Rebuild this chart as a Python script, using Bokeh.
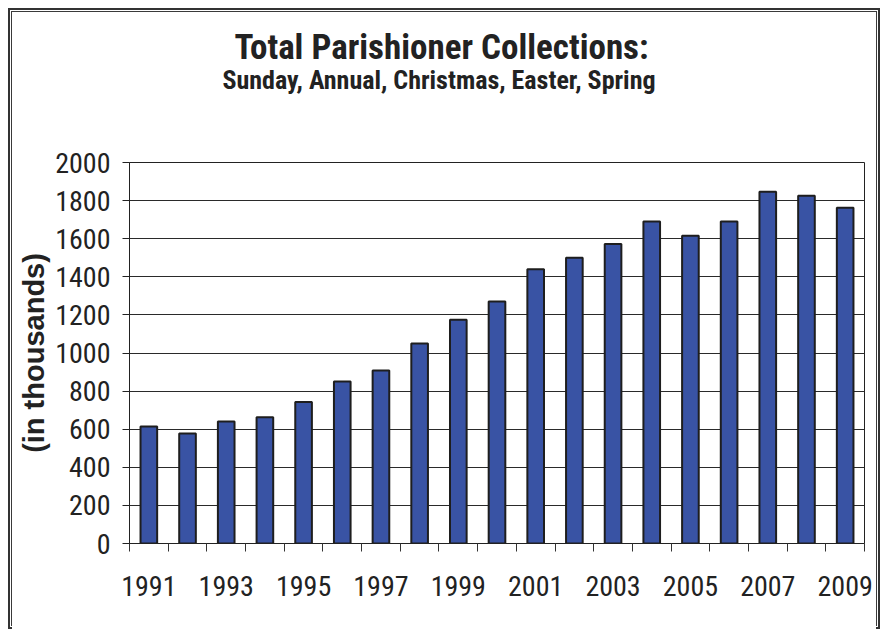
from bokeh.plotting import figure
from bokeh.models import FixedTicker, Range1d, Title, ColumnDataSource, BasicTickFormatter
from bokeh.embed import file_html
from bokeh.resources import INLINE

years = [1991, 1992, 1993, 1994, 1995, 1996, 1997, 1998, 1999, 2000,
         2001, 2002, 2003, 2004, 2005, 2006, 2007, 2008, 2009]
collections = [614, 577, 640, 663, 743, 850, 908, 1050, 1175, 1270,
               1440, 1500, 1572, 1690, 1615, 1690, 1847, 1826, 1762]
y_ticks = [0, 200, 400, 600, 800, 1000, 1200, 1400, 1600, 1800, 2000]
x_tick_labels = [1991, 1993, 1995, 1997, 1999, 2001, 2003, 2005, 2007, 2009]

title_text = "Total Parishioner Collections:"
subtitle_text = "Sunday, Annual, Christmas, Easter, Spring"
y_label = "(in thousands)"

FONT = "Roboto Condensed"

src = ColumnDataSource(dict(x=years, top=collections))

p = figure(width=884, height=633, output_backend="svg", toolbar_location=None,
           x_range=Range1d(years[0] - 0.5, years[-1] + 0.5),
           y_range=Range1d(0, 2000),
           min_border_left=129, min_border_right=20, min_border_bottom=90,
           min_border_top=162)
# double frame around the whole chart (open at the bottom, as in the cropped original)
p.styles = {"box-shadow": ("inset 2px 2px 0 6px #ffffff, inset 2px 2px 0 8px #333333, "
                           "inset 2px 2px 0 9px #ffffff, inset 2px 2px 0 10px #3a3a3a"),
            "background-color": "#ffffff",
            "clip-path": ("polygon(0px 0px, 884px 0px, 884px 633px, 876px 633px, "
                          "876px 618px, 12px 618px, 12px 633px, 0px 633px)")}

p.vbar(x="x", top="top", width=0.43, bottom=0, source=src,
       fill_color="#3953A4", line_color="#1e1e1e", line_width=2)

# main title (outermost)
p.title.text = title_text
p.title.align = "left"
p.title.offset = 105
p.title.standoff = -5
p.title.text_font = FONT
p.title.text_font_style = "bold"
p.title.text_font_size = "35px"
p.title.text_color = "#222222"

# spacer nearest the frame, then subtitle
spacer = Title(text=" ", text_font_size="10px", standoff=58)
p.add_layout(spacer, "above")
sub = Title(text=subtitle_text, align="left", offset=93, text_font=FONT,
            text_font_style="bold", text_font_size="26px",
            text_color="#222222", standoff=-6)
p.add_layout(sub, "above")

# x axis
xa = p.xaxis[0]
xa.ticker = FixedTicker(ticks=x_tick_labels,
                        minor_ticks=[y - 0.5 for y in years] + [years[-1] + 0.5])
xa.formatter = BasicTickFormatter(use_scientific=False)
xa.major_tick_out = 0
xa.major_tick_in = 0
xa.minor_tick_out = 8
xa.minor_tick_in = 0
xa.minor_tick_line_color = "#333333"
xa.axis_line_color = "#222222"
xa.major_label_text_font = FONT
xa.major_label_text_font_size = "28px"
xa.major_label_text_color = "#222222"
xa.major_label_standoff = 24

# y axis
ya = p.yaxis[0]
ya.ticker = FixedTicker(ticks=y_ticks)
ya.major_tick_out = 7
ya.major_tick_in = 0
ya.minor_tick_out = 0
ya.minor_tick_in = 0
ya.axis_line_color = "#222222"
ya.major_tick_line_color = "#222222"
ya.major_label_text_font = FONT
ya.major_label_text_font_size = "28px"
ya.major_label_text_color = "#222222"
ya.major_label_standoff = 12
ya.axis_label = y_label
ya.axis_label_text_font = "Liberation Sans"
ya.axis_label_text_font_style = "bold"
ya.axis_label_text_font_size = "29px"
ya.axis_label_text_color = "#222222"
ya.axis_label_standoff = 2

p.xgrid.visible = False
p.ygrid.ticker = FixedTicker(ticks=y_ticks)
p.ygrid.grid_line_color = "#2a2a2a"
p.ygrid.grid_line_width = 1

p.outline_line_color = "#222222"
p.background_fill_color = "white"
p.border_fill_color = None

open("out.html", "w").write(file_html(p, INLINE))
